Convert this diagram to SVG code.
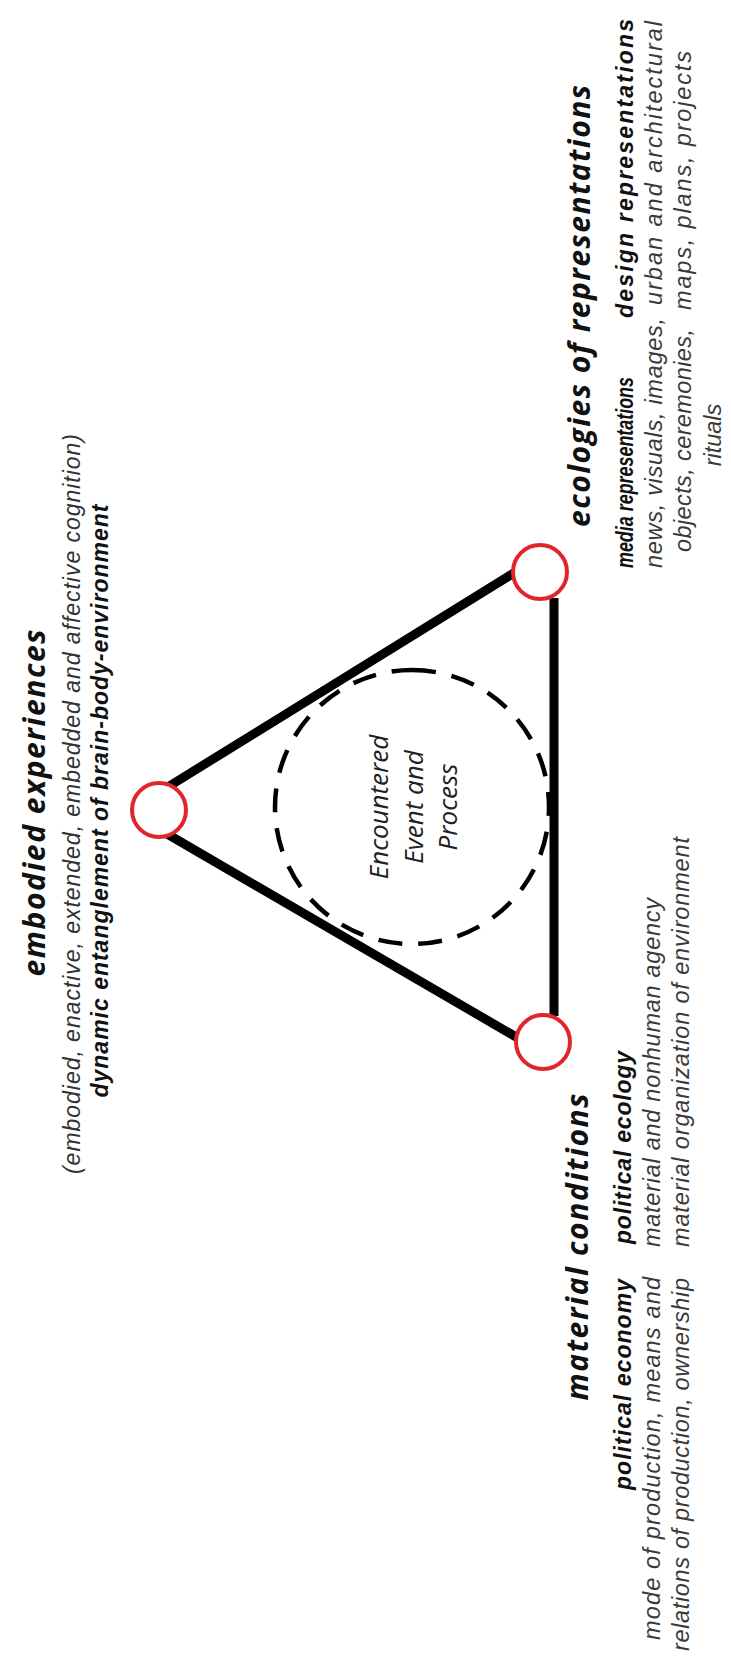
<svg xmlns="http://www.w3.org/2000/svg" width="731" height="1664" viewBox="0 0 731 1664">
<style>
.title{font-family:"Open Sans","Liberation Sans",sans-serif;font-weight:bold;font-style:italic;font-size:30px;fill:#111}
.sub{font-family:"Liberation Sans",Arial,sans-serif;font-style:italic;font-size:23px;fill:#333}
.hd{font-family:"Liberation Sans",Arial,sans-serif;font-style:italic;font-weight:bold;font-size:23px;fill:#111}
.bd{font-family:"Liberation Sans",Arial,sans-serif;font-style:italic;font-size:23.5px;fill:#3a3a3a}
.ctr{font-family:"Open Sans","Liberation Sans",sans-serif;font-style:italic;font-size:26px;fill:#222}
.node{fill:#fff;stroke:#e0262b;stroke-width:4}
.edge{stroke:#000;stroke-width:9;fill:none}
</style>
<rect width="731" height="1664" fill="#fff"/>
<g transform="matrix(0,-1,1,0,0,1664)">
  <g id="connectors">
    <line class="edge" x1="866" y1="150" x2="1101" y2="530"/>
    <line class="edge" x1="840" y1="150" x2="616" y2="535"/>
    <line class="edge" x1="1066" y1="554" x2="648" y2="554" stroke-width="8.5"/>
  </g>
  <g id="event">
    <circle cx="857" cy="412" r="137" fill="none" stroke="#000" stroke-width="4.5" stroke-dasharray="24 16"/>
    <text class="ctr" text-anchor="middle" x="857" y="388">Encountered</text>
    <text class="ctr" text-anchor="middle" x="857" y="423">Event and</text>
    <text class="ctr" text-anchor="middle" x="857" y="457">Process</text>
  </g>
  <g id="embodied">
    <circle class="node" cx="854" cy="159" r="27"/>
    <text class="title" text-anchor="middle" x="861" y="45" textLength="347">embodied experiences</text>
    <text class="sub" text-anchor="middle" x="860" y="80" textLength="740">(embodied, enactive, extended, embedded and affective cognition)</text>
    <text class="hd" text-anchor="middle" x="863" y="108" textLength="593">dynamic entanglement of brain-body-environment</text>
  </g>
  <g id="ecologies">
    <circle class="node" cx="1092" cy="540" r="27"/>
    <text class="title" text-anchor="middle" x="1358" y="590" textLength="442">ecologies of representations</text>
    <text class="hd" x="1096" y="633" textLength="191" lengthAdjust="spacingAndGlyphs">media representations</text>
    <text class="bd" x="1096" y="662" textLength="250">news, visuals, images,</text>
    <text class="bd" x="1112" y="691" textLength="223">objects, ceremonies,</text>
    <text class="bd" text-anchor="middle" x="1229" y="721">rituals</text>
    <text class="hd" x="1346" y="633" textLength="299">design representations</text>
    <text class="bd" x="1359" y="662" textLength="284">urban and architectural</text>
    <text class="bd" x="1354" y="691" textLength="259">maps, plans, projects</text>
  </g>
  <g id="material">
    <circle class="node" cx="622" cy="543" r="27"/>
    <text class="title" text-anchor="middle" x="417" y="588" textLength="307">material conditions</text>
    <text class="hd" x="174" y="631" textLength="211">political economy</text>
    <text class="bd" x="24" y="660" textLength="363">mode of production, means and</text>
    <text class="bd" x="13" y="689" textLength="373">relations of production, ownership</text>
    <text class="hd" x="420" y="631" textLength="193">political ecology</text>
    <text class="bd" x="417" y="660" textLength="349">material and nonhuman agency</text>
    <text class="bd" x="417" y="689" textLength="410">material organization of environment</text>
  </g>
</g>
</svg>
